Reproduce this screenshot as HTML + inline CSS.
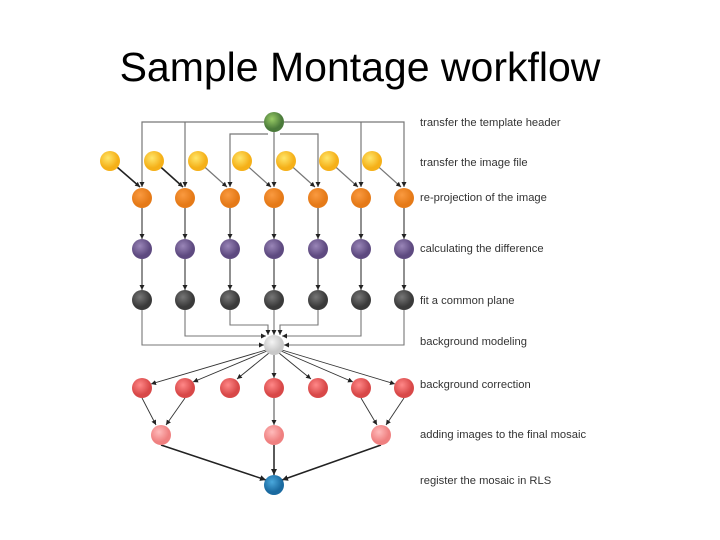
<!DOCTYPE html>
<html><head><style>
body{margin:0;width:720px;height:540px;background:#fff;overflow:hidden}
h1{position:absolute;top:44px;left:0;width:720px;text-align:center;margin:0;font:400 41px "Liberation Sans",sans-serif;color:#000}
</style></head><body>
<h1>Sample Montage workflow</h1>
<svg width="720" height="540" style="position:absolute;left:0;top:0">
<defs>
<marker id="a" markerUnits="userSpaceOnUse" markerWidth="5" markerHeight="5" refX="5" refY="2.5" orient="auto"><path d="M0,0L5,2.5L0,5z" fill="#222"/></marker>
<marker id="c" markerUnits="userSpaceOnUse" markerWidth="6" markerHeight="6" refX="6" refY="3" orient="auto"><path d="M0,0L6,3L0,6z" fill="#222"/></marker>
<radialGradient id="g" cx="40%" cy="35%"><stop offset="0" stop-color="#9c6"/><stop offset="1" stop-color="#4a7a3a"/></radialGradient>
<radialGradient id="y" cx="40%" cy="35%"><stop offset="0" stop-color="#ffe66a"/><stop offset="1" stop-color="#f5b018"/></radialGradient>
<radialGradient id="o" cx="40%" cy="35%"><stop offset="0" stop-color="#fa9a40"/><stop offset="1" stop-color="#e57a18"/></radialGradient>
<radialGradient id="p" cx="40%" cy="35%"><stop offset="0" stop-color="#9a86b8"/><stop offset="1" stop-color="#5e4a80"/></radialGradient>
<radialGradient id="k" cx="40%" cy="35%"><stop offset="0" stop-color="#777"/><stop offset="1" stop-color="#3a3a3a"/></radialGradient>
<radialGradient id="w" cx="40%" cy="35%"><stop offset="0" stop-color="#f4f4f4"/><stop offset="1" stop-color="#c8c8c8"/></radialGradient>
<radialGradient id="r" cx="40%" cy="35%"><stop offset="0" stop-color="#f88"/><stop offset="1" stop-color="#d84848"/></radialGradient>
<radialGradient id="s" cx="40%" cy="35%"><stop offset="0" stop-color="#fbb"/><stop offset="1" stop-color="#ef8080"/></radialGradient>
<radialGradient id="b" cx="40%" cy="35%"><stop offset="0" stop-color="#4aa8dc"/><stop offset="1" stop-color="#1a6aa0"/></radialGradient>
</defs>
<g stroke="#777" stroke-width="1.2" fill="none" marker-end="url(#a)">
<path d="M264,122H142V187"/><path d="M185,122V187"/><path d="M284,122H404V187"/><path d="M361,122V187"/>
<path d="M268,134H230V187"/><path d="M280,134H318V187"/><path d="M274,132V187"/>
<path d="M110,161L140,187" stroke="#222" stroke-width="1.6"/><path d="M154,161L183,187" stroke="#222" stroke-width="1.6"/>
<path d="M198,161L227,187"/><path d="M242,161L271,187"/><path d="M286,161L315,187"/><path d="M329,161L358,187"/><path d="M372,161L401,187"/>
</g>
<g stroke="#222" stroke-width="1" marker-end="url(#a)">
<path d="M142,208V239"/><path d="M185,208V239"/><path d="M230,208V239"/><path d="M274,208V239"/><path d="M318,208V239"/><path d="M361,208V239"/><path d="M404,208V239"/>
<path d="M142,259V290"/><path d="M185,259V290"/><path d="M230,259V290"/><path d="M274,259V290"/><path d="M318,259V290"/><path d="M361,259V290"/><path d="M404,259V290"/>
</g>
<g stroke="#777" stroke-width="1.1" fill="none" marker-end="url(#a)">
<path d="M142,310V345H264"/><path d="M185,310V336H266"/><path d="M230,310V325H268V335"/><path d="M274,310V335"/><path d="M318,310V325H280V335"/><path d="M361,310V336H282"/><path d="M404,310V345H284"/>
</g>
<g stroke="#333" stroke-width="0.9" marker-end="url(#a)">
<path d="M266,350L151,384"/><path d="M267,351L193,382"/><path d="M269,353L237,379"/><path d="M274,355V378"/><path d="M279,353L311,379"/><path d="M281,351L353,382"/><path d="M282,350L395,384"/>
<path d="M142,398L156,425"/><path d="M185,398L166,425"/><path d="M274,398V425"/><path d="M361,398L377,425"/><path d="M404,398L386,425"/>
</g>
<g stroke="#222" stroke-width="1.5" marker-end="url(#c)">
<path d="M161,445L266,480"/><path d="M274,445V475"/><path d="M381,445L282,480"/>
</g>
<g stroke="none">
<circle cx="274" cy="122" r="10" fill="url(#g)"/>
<g fill="url(#y)"><circle cx="110" cy="161" r="10"/><circle cx="154" cy="161" r="10"/><circle cx="198" cy="161" r="10"/><circle cx="242" cy="161" r="10"/><circle cx="286" cy="161" r="10"/><circle cx="329" cy="161" r="10"/><circle cx="372" cy="161" r="10"/></g>
<g fill="url(#o)"><circle cx="142" cy="198" r="10"/><circle cx="185" cy="198" r="10"/><circle cx="230" cy="198" r="10"/><circle cx="274" cy="198" r="10"/><circle cx="318" cy="198" r="10"/><circle cx="361" cy="198" r="10"/><circle cx="404" cy="198" r="10"/></g>
<g fill="url(#p)"><circle cx="142" cy="249" r="10"/><circle cx="185" cy="249" r="10"/><circle cx="230" cy="249" r="10"/><circle cx="274" cy="249" r="10"/><circle cx="318" cy="249" r="10"/><circle cx="361" cy="249" r="10"/><circle cx="404" cy="249" r="10"/></g>
<g fill="url(#k)"><circle cx="142" cy="300" r="10"/><circle cx="185" cy="300" r="10"/><circle cx="230" cy="300" r="10"/><circle cx="274" cy="300" r="10"/><circle cx="318" cy="300" r="10"/><circle cx="361" cy="300" r="10"/><circle cx="404" cy="300" r="10"/></g>
<circle cx="274" cy="345" r="10" fill="url(#w)"/>
<g fill="url(#r)"><circle cx="142" cy="388" r="10"/><circle cx="185" cy="388" r="10"/><circle cx="230" cy="388" r="10"/><circle cx="274" cy="388" r="10"/><circle cx="318" cy="388" r="10"/><circle cx="361" cy="388" r="10"/><circle cx="404" cy="388" r="10"/></g>
<g fill="url(#s)"><circle cx="161" cy="435" r="10"/><circle cx="274" cy="435" r="10"/><circle cx="381" cy="435" r="10"/></g>
<circle cx="274" cy="485" r="10" fill="url(#b)"/>
</g>
<g font-family="Liberation Sans, sans-serif" font-size="11.2" fill="#333">
<text x="420" y="126">transfer the template header</text>
<text x="420" y="166">transfer the image file</text>
<text x="420" y="201">re-projection of the image</text>
<text x="420" y="252">calculating the difference</text>
<text x="420" y="304">fit a common plane</text>
<text x="420" y="345">background modeling</text>
<text x="420" y="388">background correction</text>
<text x="420" y="438">adding images to the final mosaic</text>
<text x="420" y="484">register the mosaic in RLS</text>
</g>
</svg>
</body></html>
